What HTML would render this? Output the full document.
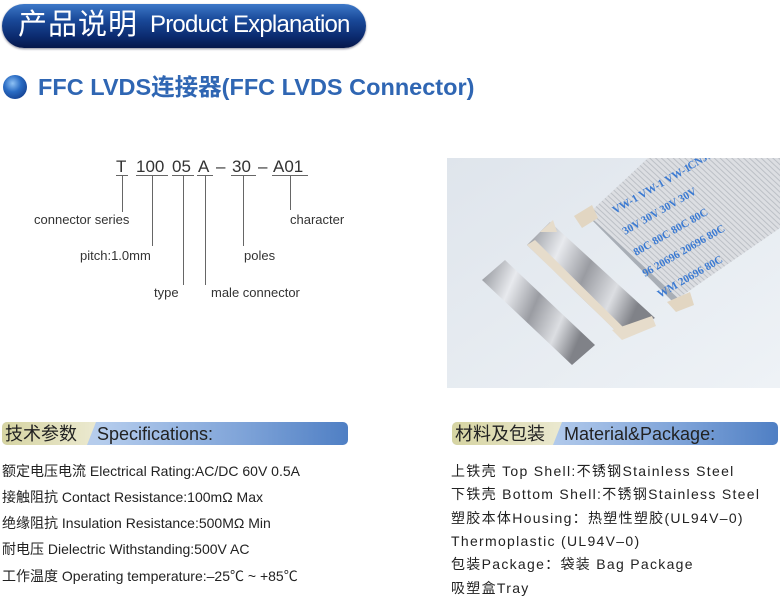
<!DOCTYPE html>
<html><head><meta charset="utf-8"><style>
*{margin:0;padding:0;box-sizing:border-box}
body{width:780px;height:602px;background:#fff;position:relative;overflow:hidden;font-family:"Liberation Sans","Noto Sans CJK SC",sans-serif;color:#222}
.a{position:absolute;white-space:nowrap;line-height:1}
.pill{left:2px;top:4px;width:364px;height:44px;border-radius:22px;background:linear-gradient(#3d78c8 0%,#1a4a9a 35%,#0b2a6e 75%,#06174a 100%);box-shadow:0 1px 2px #889}
.bar{height:23px;border-radius:5px;background:linear-gradient(90deg,#c6d6ef 0%,#b3cbec 30%,#7ea3d8 70%,#4f7fc4 100%)}
.tag{height:23px;border-radius:5px 0 0 5px;background:linear-gradient(90deg,#d6d4a2,#ebe9d0);clip-path:polygon(0 0,100% 0,calc(100% - 9px) 100%,0 100%)}
.sp{font-size:14px;color:#222}
.mt{font-size:14px;letter-spacing:1.3px;color:#222}
.lb{font-size:13px;color:#333}
</style></head><body>
<div class="a pill"></div>
<div class="a" style="left:18px;top:11px;font-size:29px;color:#fff;letter-spacing:1px">产品说明</div>
<div class="a" style="left:150px;top:13px;font-size:24px;color:#fff;letter-spacing:-0.8px">Product Explanation</div>

<div class="a" style="left:3px;top:75px;width:24px;height:24px;border-radius:50%;background:radial-gradient(circle at 40% 35%,#8fc2f5 0%,#2a6cc4 40%,#0a2c78 100%)"></div>
<div class="a" style="left:38px;top:76px;font-size:23.5px;font-weight:bold;color:#2f66b3">FFC LVDS连接器(FFC LVDS Connector)</div>

<svg class="a" style="left:0;top:0" width="440" height="310">
<g font-family="Liberation Sans" font-size="17" fill="#333">
<text x="116" y="172">T</text><text x="136" y="172">100</text><text x="172" y="172">05</text><text x="198" y="172">A</text><text x="216" y="172">–</text><text x="232" y="172">30</text><text x="258" y="172">–</text><text x="273" y="172">A01</text>
</g>
<g stroke="#666" stroke-width="1" fill="none">
<path d="M116 175.5H128M136 175.5H168M172 175.5H194M197 175.5H213M231 175.5H256M272 175.5H308"/>
<path d="M122.5 176V212M152.5 176V246M183.5 176V285M205.5 176V285M243.5 176V246M290.5 176V210"/>
</g>
</svg>
<div class="a lb" style="left:34px;top:213px">connector series</div>
<div class="a lb" style="left:80px;top:249px">pitch:1.0mm</div>
<div class="a lb" style="left:154px;top:286px">type</div>
<div class="a lb" style="left:211px;top:286px">male connector</div>
<div class="a lb" style="left:244px;top:249px">poles</div>
<div class="a lb" style="left:290px;top:213px">character</div>

<svg class="a" style="left:447px;top:158px" width="333" height="230" viewBox="447 158 333 230">
<defs>
<linearGradient id="bg" x1="0" y1="0" x2="1" y2="1"><stop offset="0" stop-color="#dfe5ec"/><stop offset="1" stop-color="#eef2f6"/></linearGradient>
<linearGradient id="mt" x1="0" y1="0" x2="1" y2="0.4"><stop offset="0" stop-color="#8a8d93"/><stop offset="0.3" stop-color="#e8eaee"/><stop offset="0.55" stop-color="#9a9ca2"/><stop offset="0.8" stop-color="#dcdee2"/><stop offset="1" stop-color="#808288"/></linearGradient>
<pattern id="st" width="4" height="4" patternUnits="userSpaceOnUse" patternTransform="rotate(43)"><rect width="4" height="4" fill="#dcdee2"/><rect width="4" height="1" fill="#bcc0c6"/></pattern>
</defs>
<rect x="447" y="158" width="333" height="230" fill="url(#bg)"/>
<polygon points="587,215 648,158 780,158 780,228 673,302" fill="url(#st)"/>
<polygon points="587,215 596,222 680,300 673,302" fill="#a8aeb6"/>
<g font-family="Liberation Serif" font-weight="bold" font-size="11" fill="#3b7ad2">
<text transform="translate(690,170) rotate(-30)">CNJS   CNJS</text>
<text transform="translate(615,214) rotate(-30)">VW-1  VW-1  VW-1</text>
<text transform="translate(625,235) rotate(-30)">30V  30V  30V  30V</text>
<text transform="translate(636,256) rotate(-30)">80C  80C  80C  80C</text>
<text transform="translate(645,277) rotate(-30)">96 20696  20696  80C</text>
<text transform="translate(660,298) rotate(-30)">WM  20696  80C</text>
</g>
<polygon points="574,216 592,205 598,218 582,228" fill="#e2d6c2"/>
<polygon points="667,302 690,292 694,305 676,312" fill="#e2d6c2"/>
<polygon points="527,245 550,222 655,318 620,335" fill="url(#mt)"/>
<polygon points="527,245 535,240 626,330 620,335" fill="#e6dccb"/>
<polygon points="540,232 553,220 557,232" fill="#e6dccb"/>
<polygon points="612,330 652,316 656,326 622,340" fill="#e6dccb"/>
<polygon points="482,280 505,260 595,345 572,365" fill="url(#mt)"/>
</svg>

<div class="a bar" style="left:2px;top:422px;width:346px"></div>
<div class="a tag" style="left:2px;top:422px;width:94px"></div>
<div class="a" style="left:5px;top:425px;font-size:18px;color:#222">技术参数</div>
<div class="a" style="left:97px;top:425px;font-size:18px;color:#222">Specifications:</div>

<div class="a bar" style="left:452px;top:422px;width:326px"></div>
<div class="a tag" style="left:452px;top:422px;width:110px"></div>
<div class="a" style="left:455px;top:425px;font-size:18px;color:#222">材料及包装</div>
<div class="a" style="left:564px;top:425px;font-size:18px;color:#222">Material&amp;Package:</div>

<div class="a sp" style="left:2px;top:464px">额定电压电流 Electrical Rating:AC/DC 60V 0.5A</div>
<div class="a sp" style="left:2px;top:490px">接触阻抗 Contact Resistance:100mΩ  Max</div>
<div class="a sp" style="left:2px;top:516px">绝缘阻抗 Insulation Resistance:500MΩ  Min</div>
<div class="a sp" style="left:2px;top:542px">耐电压 Dielectric Withstanding:500V AC</div>
<div class="a sp" style="left:2px;top:569px">工作温度 Operating temperature:–25℃ ~ +85℃</div>

<div class="a mt" style="left:451px;top:464px">上铁壳 Top Shell:不锈钢Stainless  Steel</div>
<div class="a mt" style="left:451px;top:487px">下铁壳 Bottom Shell:不锈钢Stainless  Steel</div>
<div class="a mt" style="left:451px;top:511px">塑胶本体Housing：热塑性塑胶(UL94V–0)</div>
<div class="a mt" style="left:451px;top:534px">Thermoplastic (UL94V–0)</div>
<div class="a mt" style="left:451px;top:557px">包装Package：袋装 Bag Package</div>
<div class="a mt" style="left:451px;top:581px">吸塑盒Tray</div>
</body></html>
